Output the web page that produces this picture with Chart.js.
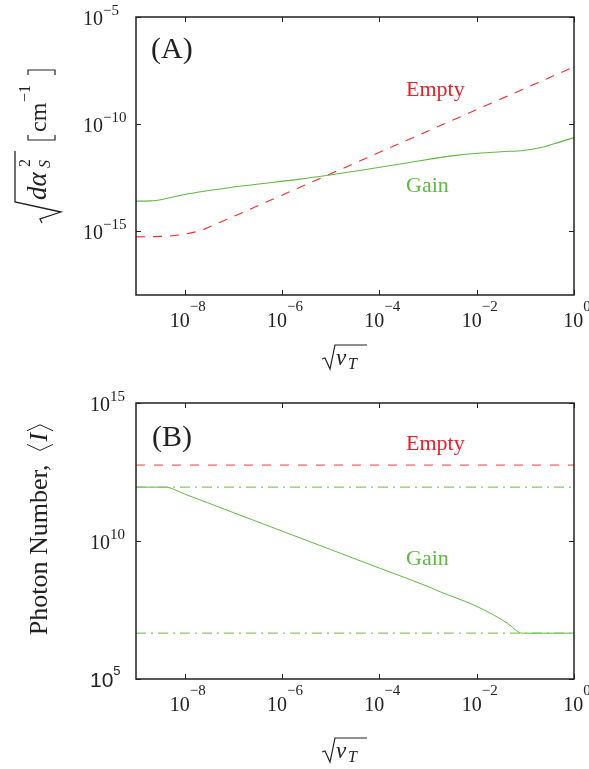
<!DOCTYPE html>
<html>
<head>
<meta charset="utf-8">
<script src="https://cdn.jsdelivr.net/npm/chart.js@4.4.0/dist/chart.umd.min.js"></script>
<style>
  html, body { margin: 0; padding: 0; background: #fff; }
  #wrap { position: relative; width: 589px; height: 769px; overflow: hidden; }
  canvas { position: absolute; left: 0; }
</style>
</head>
<body>
<div id="wrap">
  <canvas id="chartA" width="589" height="384" style="top:0px"></canvas>
  <canvas id="chartB" width="589" height="385" style="top:384px"></canvas>
</div>
<script>
// values are log10 exponents
const xTicks = [-8, -6, -4, -2, 0];

// panel A: sqrt(d alpha_S^2) vs sqrt(v_T)
const yTicksA = [-5, -10, -15];
const emptyAx = [-9, -8.5, -8.2, -8, -7.8, -7.6, -7.3, -7, -6, -5, -4, -3, -2, -1, 0];
const emptyAy = [-15.28, -15.26, -15.22, -15.15, -15.06, -14.92, -14.63, -14.33, -13.33, -12.33, -11.33, -10.33, -9.33, -8.33, -7.33];
const gainAx = [-9, -8.7, -8.4, -8, -7.63, -6.74, -5.63, -4.47, -3.5, -2.42, -1.5, -1.04, -0.63, -0.3, 0];
const gainAy = [-13.61, -13.6, -13.5, -13.3, -13.16, -12.88, -12.58, -12.2, -11.85, -11.47, -11.3, -11.24, -11.08, -10.85, -10.64];

// panel B: photon number vs sqrt(v_T)
const yTicksB = [15, 10, 5];
const emptyBx = [-9, 0];
const emptyBy = [12.75, 12.75];
const satHiY = [11.95, 11.95];
const satLoY = [6.66, 6.66];
const gainBx = [-9, -8.4, -8, -7, -6, -5, -4, -3, -2.75, -2.06, -1.65, -1.37, -1.06, 0];
const gainBy = [11.95, 11.95, 11.7, 11.03, 10.36, 9.69, 9.02, 8.35, 8.16, 7.68, 7.32, 7.02, 6.66, 6.66];

const SERIF = "'Liberation Serif', 'Times New Roman', serif";
const RED = "rgb(255,40,40)";
const GREEN = "rgb(95,185,65)";

const line = (xs, ys, color, dash, mono, width) => ({
  data: xs.map((x, i) => ({ x: 10 ** x, y: 10 ** ys[i] })),
  borderColor: color,
  borderWidth: width || 1,
  borderDash: dash || [],
  pointRadius: 0,
  fill: false,
  cubicInterpolationMode: mono ? "monotone" : "default",
});

function pow10(ctx, exp, x, y, align, shift, big, small, font) {
  font = font || SERIF;
  ctx.font = big + "px " + font;
  const w1 = ctx.measureText("10").width;
  ctx.font = small + "px " + font;
  const w2 = ctx.measureText(exp).width;
  const x0 = align === "center" ? x - (w1 + w2) / 2 : x;
  ctx.textAlign = "left";
  ctx.textBaseline = "alphabetic";
  ctx.font = big + "px " + font;
  ctx.fillText("10", x0, y);
  ctx.font = small + "px " + font;
  ctx.fillText(exp, x0 + w1, y - shift);
}

function frame(ctx, chart, yTicks) {
  const a = chart.chartArea;
  const xs = chart.scales.x, ys = chart.scales.y;
  ctx.save();
  ctx.strokeStyle = "#222";
  ctx.lineWidth = 1.5;
  ctx.strokeRect(a.left, a.top, a.right - a.left, a.bottom - a.top);
  ctx.lineWidth = 1;
  ctx.beginPath();
  xTicks.forEach(e => {
    const px = Math.round(xs.getPixelForValue(10 ** e)) + 0.5;
    ctx.moveTo(px, a.bottom); ctx.lineTo(px, a.bottom - 5);
    ctx.moveTo(px, a.top); ctx.lineTo(px, a.top + 5);
  });
  yTicks.forEach(e => {
    const py = Math.round(ys.getPixelForValue(10 ** e)) + 0.5;
    ctx.moveTo(a.left, py); ctx.lineTo(a.left + 5, py);
    ctx.moveTo(a.right, py); ctx.lineTo(a.right - 5, py);
  });
  ctx.stroke();
  // x tick labels
  ctx.fillStyle = "#222";
  xTicks.forEach(e => {
    const px = xs.getPixelForValue(10 ** e);
    pow10(ctx, e === 0 ? "0" : "\u2212" + (-e), px + 3, a.bottom + 32, "center", 16, 20, 15);
  });
  ctx.restore();
}

function sqrtVT(ctx, cx, base) {
  ctx.save();
  ctx.strokeStyle = "#222";
  ctx.fillStyle = "#222";
  ctx.lineWidth = 1.2;
  ctx.beginPath();
  ctx.moveTo(cx - 23, base - 6);
  ctx.lineTo(cx - 20, base - 7);
  ctx.lineTo(cx - 15, base + 4);
  ctx.lineTo(cx - 10, base - 20);
  ctx.lineTo(cx + 22, base - 20);
  ctx.stroke();
  ctx.textAlign = "left";
  ctx.font = "italic 23px " + SERIF;
  ctx.fillText("v", cx - 9, base);
  ctx.font = "italic 16px " + SERIF;
  ctx.fillText("T", cx + 3, base + 4);
  ctx.restore();
}

const panelA = {
  id: "panelA",
  afterDraw(chart) {
    const ctx = chart.ctx;
    frame(ctx, chart, yTicksA);
    ctx.save();
    ctx.fillStyle = "#222";
    yTicksA.forEach(e => {
      const py = chart.scales.y.getPixelForValue(10 ** e);
      pow10(ctx, "\u2212" + (-e), 83, py + 8, "left", 10, 20, 15);
    });
    ctx.font = "30px " + SERIF;
    ctx.fillText("(A)", 151, 58);
    ctx.font = "22px " + SERIF;
    ctx.fillStyle = "rgb(240,30,40)";
    ctx.fillText("Empty", 406, 96);
    ctx.fillStyle = "rgb(95,185,65)";
    ctx.fillText("Gain", 406, 192);
    sqrtVT(ctx, 345, 365);

    // y title: sqrt(d alpha_S^2) [cm^-1], rotated
    ctx.fillStyle = "#222";
    ctx.strokeStyle = "#222";
    ctx.translate(46, 145);
    ctx.rotate(-Math.PI / 2);
    ctx.lineWidth = 1.3;
    ctx.beginPath();
    ctx.moveTo(-78, -4);
    ctx.lineTo(-74, -6);
    ctx.lineTo(-67, 15);
    ctx.lineTo(-57, -31);
    ctx.lineTo(-6, -31);
    ctx.stroke();
    ctx.textAlign = "left";
    ctx.font = "italic 27px " + SERIF;
    ctx.fillText("d\u03b1", -55, 0);
    ctx.font = "16px " + SERIF;
    ctx.fillText("2", -22, -16);
    ctx.font = "italic 16px " + SERIF;
    ctx.fillText("S", -23, 4);
    ctx.lineWidth = 1.2;
    ctx.beginPath();
    ctx.moveTo(10, -18); ctx.lineTo(5, -18); ctx.lineTo(5, 9); ctx.lineTo(10, 9);
    ctx.moveTo(70, -18); ctx.lineTo(75, -18); ctx.lineTo(75, 9); ctx.lineTo(70, 9);
    ctx.stroke();
    ctx.font = "24px " + SERIF;
    ctx.fillText("cm", 13, 0);
    ctx.font = "16px " + SERIF;
    ctx.fillText("\u22121", 43, -16);
    ctx.restore();
  },
};

const panelB = {
  id: "panelB",
  afterDraw(chart) {
    const ctx = chart.ctx;
    frame(ctx, chart, yTicksB);
    ctx.save();
    ctx.fillStyle = "#222";
    yTicksB.forEach(e => {
      const py = chart.scales.y.getPixelForValue(10 ** e);
      if (e === 5) {
        pow10(ctx, "5", 90, py + 8, "left", 12, 21, 13, "'Liberation Sans', Arial, sans-serif");
      } else {
        pow10(ctx, String(e), 90, py + 8, "left", 10, 20, 15);
      }
    });
    ctx.font = "30px " + SERIF;
    ctx.fillText("(B)", 152, 446 - 384);
    ctx.font = "22px " + SERIF;
    ctx.fillStyle = "rgb(240,30,40)";
    ctx.fillText("Empty", 406, 450 - 384);
    ctx.fillStyle = "rgb(95,185,65)";
    ctx.fillText("Gain", 406, 565 - 384);
    sqrtVT(ctx, 345, 758 - 384);

    // y title: Photon Number, <I>
    ctx.fillStyle = "#222";
    ctx.strokeStyle = "#222";
    ctx.translate(47, 530 - 384);
    ctx.rotate(-Math.PI / 2);
    ctx.font = "26px " + SERIF;
    const t = "Photon Number,";
    const wt = ctx.measureText(t).width;
    ctx.font = "italic 26px " + SERIF;
    const wi = ctx.measureText("I").width;
    const total = wt + 14 + 9 + wi + 8;
    let u = -total / 2;
    ctx.font = "26px " + SERIF;
    ctx.fillText(t, u, 0);
    u += wt + 14;
    ctx.lineWidth = 1;
    ctx.beginPath();
    ctx.moveTo(u + 6, -20); ctx.lineTo(u, -7); ctx.lineTo(u + 6, 6);
    ctx.stroke();
    u += 9;
    ctx.font = "italic 26px " + SERIF;
    ctx.fillText("I", u, 0);
    u += wi + 2;
    ctx.beginPath();
    ctx.moveTo(u, -20); ctx.lineTo(u + 6, -7); ctx.lineTo(u, 6);
    ctx.stroke();
    ctx.restore();
  },
};

const common = (ymin, ymax) => ({
  responsive: false,
  animation: false,
  devicePixelRatio: 1,
  plugins: { legend: { display: false }, tooltip: { enabled: false } },
  scales: {
    x: { type: "logarithmic", min: 1e-9, max: 1, display: false },
    y: { type: "logarithmic", min: ymin, max: ymax, display: false },
  },
});

const chartA = new Chart(document.getElementById("chartA").getContext("2d"), {
  type: "line",
  data: {
    datasets: [
      line(gainAx, gainAy, GREEN, [], true, 1.1),
      line(emptyAx, emptyAy, RED, [9, 8], true, 1.1),
    ],
  },
  options: Object.assign(common(1e-18, 1e-5), {
    layout: { padding: { left: 136, right: 15, top: 17, bottom: 89 } },
  }),
  plugins: [panelA],
});

const chartB = new Chart(document.getElementById("chartB").getContext("2d"), {
  type: "line",
  data: {
    datasets: [
      line(emptyBx, emptyBy, "rgb(242,125,125)", [9, 9], false, 1.5),
      line(emptyBx, satHiY, "rgb(135,200,105)", [10, 5, 2, 5], false, 1.3),
      line(emptyBx, satLoY, "rgb(135,200,105)", [10, 5, 2, 5], false, 1.3),
      line(gainBx, gainBy, GREEN, [], true, 1),
    ],
  },
  options: Object.assign(common(1e5, 1e15), {
    layout: { padding: { left: 136, right: 15, top: 19, bottom: 90 } },
  }),
  plugins: [panelB],
});
</script>
</body>
</html>
